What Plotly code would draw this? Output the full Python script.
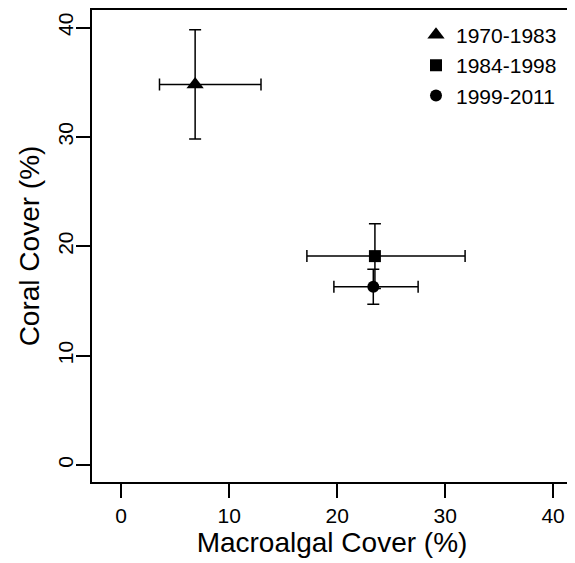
import plotly.graph_objects as go

periods = ["1970-1983", "1984-1998", "1999-2011"]
symbols = ["triangle-up", "square", "circle"]
sizes = [15, 12, 12]
macro = [6.85, 23.5, 23.35]
macro_lo = [3.55, 17.2, 19.7]
macro_hi = [12.95, 31.85, 27.5]
coral = [34.8, 19.1, 16.3]
coral_err = [5.0, 2.95, 1.6]

x_ticks = [0, 10, 20, 30, 40]
y_ticks = [0, 10, 20, 30, 40]

fig = go.Figure()
for i in range(3):
    fig.add_trace(go.Scatter(
        x=[macro[i]], y=[coral[i]], mode="markers", name=periods[i],
        marker=dict(symbol=symbols[i], size=sizes[i], color="black"),
        error_x=dict(type="data", symmetric=False,
                     array=[macro_hi[i] - macro[i]],
                     arrayminus=[macro[i] - macro_lo[i]],
                     color="black", thickness=1.5, width=6),
        error_y=dict(type="data", array=[coral_err[i]],
                     color="black", thickness=1.5, width=6),
    ))

font = "Liberation Sans, Arial, sans-serif"
# the page body adds an 8px offset; figure sized to fit the window
fig.update_layout(
    width=567, height=555,
    margin=dict(l=84, r=3, t=2, b=81),
    paper_bgcolor="white", plot_bgcolor="white",
    font=dict(family=font, color="black"),
    showlegend=True,
    legend=dict(x=0.675, y=0.99, xanchor="left", yanchor="top",
                bgcolor="rgba(0,0,0,0)", font=dict(size=21, family=font),
                tracegroupgap=0),
    xaxis=dict(range=[-2.7, 41.75], tickvals=x_ticks, automargin=False,
               showline=True, linecolor="black", linewidth=1.5, mirror=True,
               ticks="outside", ticklen=14, tickwidth=1.5, tickcolor="black",
               showgrid=False, zeroline=False,
               tickfont=dict(size=21), ticklabelstandoff=0,
               title=dict(text="Macroalgal Cover (%)", font=dict(size=28), standoff=2)),
    yaxis=dict(range=[-1.55, 41.6], tickvals=y_ticks, automargin=False,
               showline=True, linecolor="black", linewidth=1.5, mirror=True,
               ticks="outside", ticklen=14, tickwidth=1.5, tickcolor="black",
               showgrid=False, zeroline=False, tickangle=-90,
               tickfont=dict(size=21), ticklabelstandoff=-5,
               title=dict(text="Coral Cover (%)", font=dict(size=28), standoff=6)),
)

fig.write_html("out.html")
